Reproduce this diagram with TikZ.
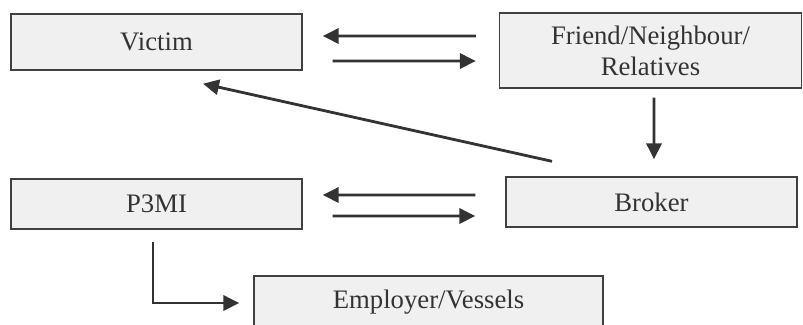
\documentclass[tikz,border=0pt]{standalone}
\usepackage{fontspec}
\setmainfont{Liberation Serif}
\usepackage{xcolor}
\usetikzlibrary{arrows.meta,positioning}
\definecolor{boxfill}{HTML}{F0F0F0}
\definecolor{boxline}{HTML}{404040}
\definecolor{arrowline}{HTML}{333333}
\tikzset{%
boxnode/.style={rectangle, draw=boxline, line width=1pt, fill=boxfill, text=arrowline, align=center, inner sep=0pt, font=\fontsize{19}{22}\selectfont},
pt/.style={draw=arrowline, line width=2pt, -{Triangle[length=0.4cm,width=0.38cm]}}
}
\begin{document}
\begin{tikzpicture}[node distance=12.35cm]
		\path[use as bounding box, clip] (0,0) rectangle (20.075,-8.1);
		\node[boxnode, minimum width=7.275cm, minimum height=1.4cm] (victim) at (3.9125,-1.05) {Victim};
		\node[boxnode, minimum width=7.55cm, minimum height=1.875cm] (friend) [right of=victim, yshift=-0.2125cm] {Friend/Neighbour/\\Relatives};
		\node[boxnode, minimum width=7.275cm, minimum height=1.25cm] (p3mi) [below of=victim, node distance=4.05cm] {P3MI};
		\node[boxnode, minimum width=7.275cm, minimum height=1.25cm] (broker) [below of=friend, node distance=3.7875cm, xshift=0.025cm] {Broker};
		\node[boxnode, minimum width=8.725cm, minimum height=1.3cm] (employer) [below of=p3mi, node distance=2.45cm, xshift=6.8cm] {Employer/Vessels};

		\path ([xshift=-0.575cm, yshift=0.3625cm]friend.west) edge[pt] ([xshift=0.5cm, yshift=0.15cm]victim.east);
		\path ([xshift=0.75cm, yshift=-0.475cm]victim.east) edge[pt] ([xshift=-0.575cm, yshift=-0.2625cm]friend.west);
		\path ([xshift=0.0875cm, yshift=-0.225cm]friend.south) edge[pt] ([xshift=0.0625cm, yshift=0.425cm]broker.north);
		\path ([xshift=-2.4875cm, yshift=0.375cm]broker.north) edge[pt] ([xshift=1.1625cm, yshift=-0.325cm]victim.south);
		\path ([xshift=-0.75cm, yshift=0.175cm]broker.west) edge[pt] ([xshift=0.5cm, yshift=0.225cm]p3mi.east);
		\path ([xshift=0.75cm, yshift=-0.3cm]p3mi.east) edge[pt] ([xshift=-0.75cm, yshift=-0.35cm]broker.west);
		\draw[pt] ([xshift=-0.0875cm, yshift=-0.3cm]p3mi.south) |- ([xshift=-0.35cm, yshift=-0.025cm]employer.west);
	\end{tikzpicture}
\end{document}
